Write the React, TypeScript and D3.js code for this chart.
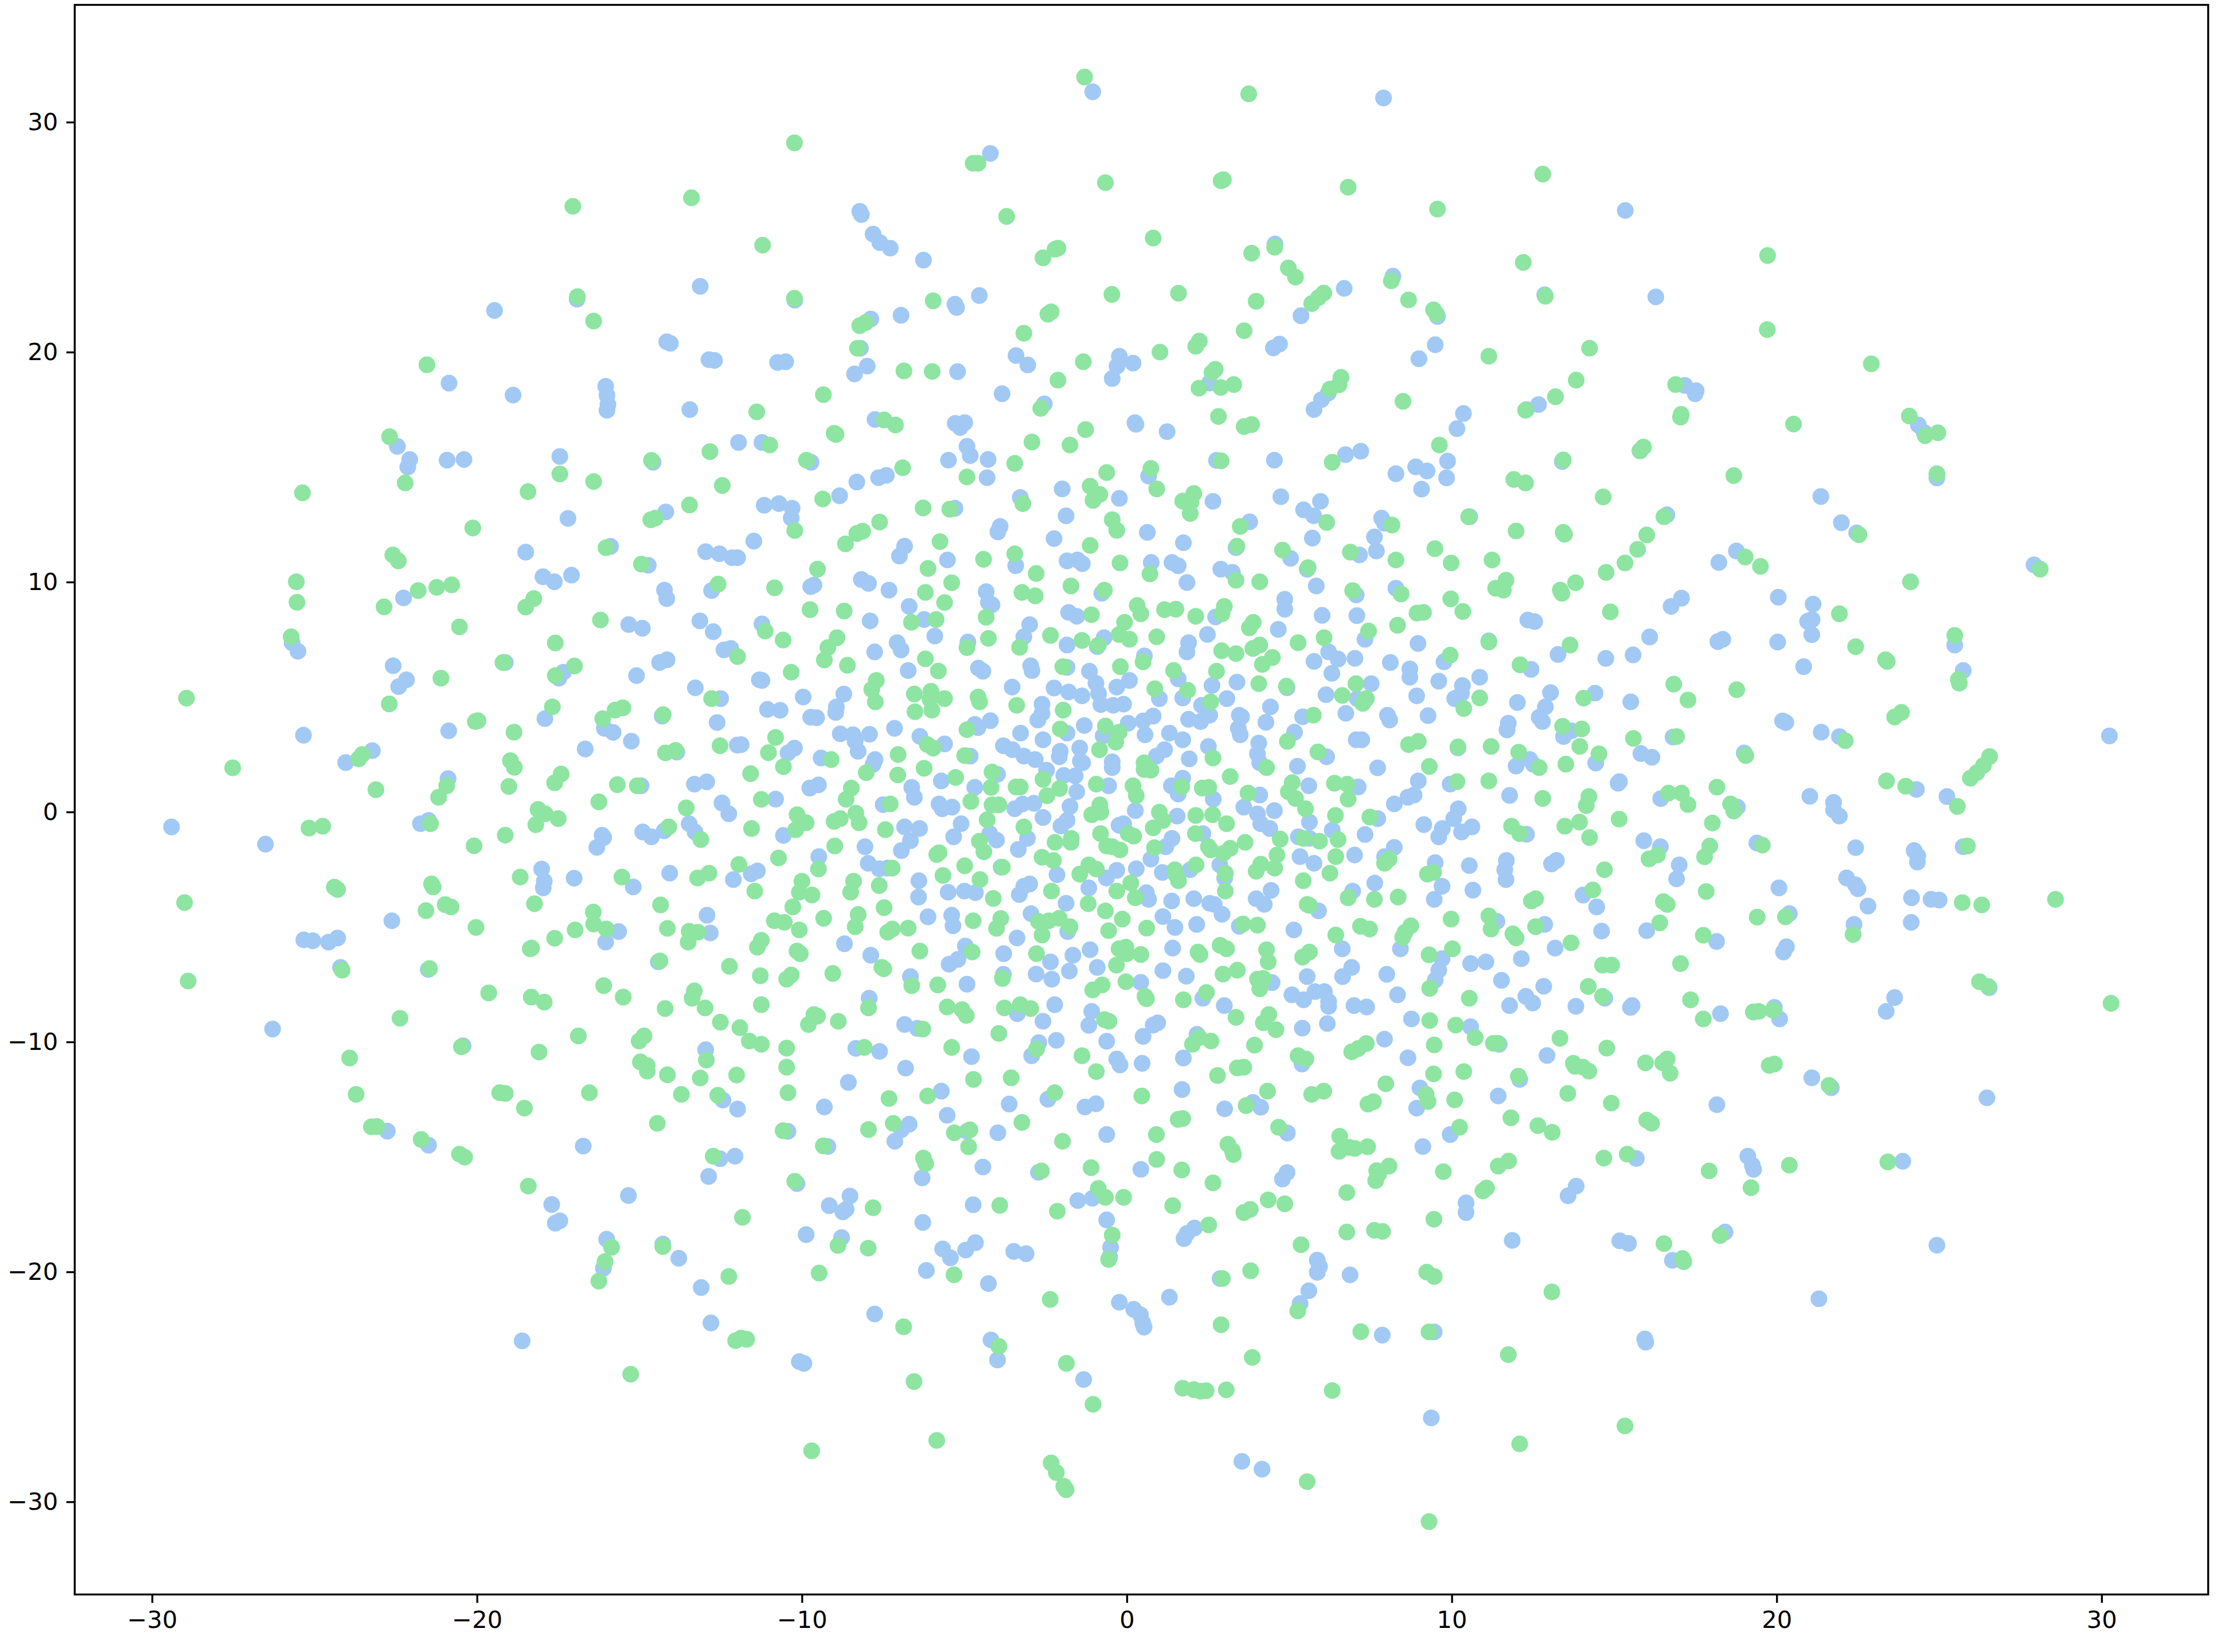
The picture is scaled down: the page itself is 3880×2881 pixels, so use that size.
import React, { useEffect, useRef } from 'react';
import * as d3 from 'd3';

type Pt = [number, number];

const xTicks = [-30, -20, -10, 0, 10, 20, 30];
const yTicks = [-30, -20, -10, 0, 10, 20, 30];

// first series
const blueUpperLeft: Pt[] = [
  [-13.13,22.86],[-19.46,21.81],[-16.92,22.3],[-14.16,20.45],[-14.05,20.38],[-12.86,19.67],[-12.69,19.64],[-10.75,19.55],[-10.5,19.58],
  [-20.86,18.65],[-18.89,18.13],[-16.04,18.51],[-16,18.12],[-15.97,17.72],[-16,17.47],[-13.45,17.5],[-22.45,15.9],[-22.07,15.33],[-22.13,15],
  [-20.92,15.3],[-20.4,15.33],[-17.45,15.46],[-14.58,15.21],[-11.95,16.07],[-11.23,16.07],[-14.19,13.05],[-17.2,12.77],[-11.16,13.34],[-10.71,13.41],
  [-11.48,11.78],[-12.96,11.32],[-12.54,11.23],[-12.15,11.06],[-11.98,11.06],[-15.89,11.55],[-18.5,11.3],[-14.73,10.73],
  [-17.97,10.23],[-17.62,10.01],[-17.09,10.3],[-22.26,9.31],[-14.23,9.65],[-14.16,9.28],[-12.78,9.63],[-15.33,8.15],[-14.91,7.99],[-13.14,8.31],[-12.73,7.84],[-11.23,8.18],
  [-25.69,7.36],[-25.51,6.99],[-12.4,7.05],[-12.19,7.11],[-19.13,6.5],[-22.58,6.36],[-14.38,6.5],[-14.15,6.62],[-17.34,6.08],[-17.48,5.82],[-15.09,5.93],[-22.17,5.75],[-22.41,5.45],
  [-11.31,5.75],[-11.23,5.72],[-13.28,5.4],[-12.5,4.93],[-17.91,4.06],[-16.08,3.64],[-15.81,3.46],[-11.06,4.46],[-10.67,4.42],[-14.3,4.17],[-12.61,3.89],[-25.34,3.34],[-20.87,3.53],
  [-15.25,3.08],[-11.99,2.91],[-11.87,2.93],[-16.67,2.74],[-13.85,2.6],[-23.22,2.67],[-24.04,2.15],[-20.89,1.45],[-14.95,1.14],[-13.31,1.21],[-12.93,1.31],[-10.81,0.56],[-12.46,0.39],[-12.25,-0.08],
];
const blueLowerLeft: Pt[] = [
  [-29.4,-0.65],[-26.51,-1.4],[-21.74,-0.51],[-21.49,-0.37],[-16.15,-1.01],[-16.1,-1.11],[-16.31,-1.54],[-14.9,-0.87],[-14.63,-1.08],[-14.24,-0.82],[-13.47,-0.51],[-13.29,-0.87],[-10.57,-1.02],
  [-18.01,-2.48],[-17.93,-3.01],[-17.96,-3.3],[-17.01,-2.88],[-15.19,-3.26],[-14.07,-2.66],[-12.11,-2.94],[-11.56,-2.69],[-11.37,-2.56],[-15.64,-5.2],[-16.04,-5.66],[-12.92,-4.49],[-22.62,-4.73],
  [-12.82,-5.26],[-25.33,-5.56],[-25.05,-5.6],[-24.57,-5.66],[-24.29,-5.48],[-14.42,-6.52],[-24.2,-6.76],[-21.5,-6.85],[-26.29,-9.44],[-20.43,-10.17],[-12.96,-10.34],
  [-12.43,-12.53],[-11.98,-12.92],[-22.76,-13.88],[-21.49,-14.49],[-16.73,-14.53],[-12.52,-15.08],[-12.06,-14.97],[-12.87,-15.85],[-15.34,-16.68],[-17.7,-17.07],[-17.59,-17.88],[-17.45,-17.78],
  [-16.01,-18.58],[-14.28,-18.79],[-13.79,-19.41],[-16.11,-19.84],[-13.1,-20.68],[-12.8,-22.22],[-18.61,-23],
];
const blueUpperMiddle: Pt[] = [
  [-1.05,31.32],[7.9,31.05],[-4.2,28.64],[-8.22,26.12],[-8.17,25.98],[-7.81,25.13],[-7.6,24.76],[-7.28,24.52],[-6.26,24],[4.56,24.7],[8.19,23.3],[6.69,22.77],[-10.22,22.26],[-5.29,22.08],[-5.24,21.94],[-4.54,22.46],
  [5.36,21.58],[9.56,21.55],[-7.88,21.44],[-6.95,21.6],[4.7,20.35],[4.51,20.18],[9.49,20.32],[8.99,19.71],[-8.2,20.17],[-7.99,19.39],[-8.38,19.05],[-5.21,19.15],[-3.41,19.85],[-3.05,19.44],
  [-0.23,19.82],[-0.3,19.39],[0.19,19.52],[-0.45,18.85],[2.54,18.65],[6.2,18.22],[5.99,17.93],[5.76,17.5],[-3.84,18.19],[-2.54,17.75],[10.36,17.33],[10.16,16.67],[-7.75,17.07],[-5.28,16.9],[-4.99,16.93],[-5.13,16.72],
  [0.25,16.93],[0.28,16.86],[1.24,16.54],[-4.92,15.9],[-4.82,15.5],[-4.27,15.33],[-5.49,15.3],[-9.72,15.21],[-7.4,14.64],[-7.64,14.54],[-8.31,14.35],[-4.3,14.54],[2.76,15.29],[4.54,15.3],[6.73,15.54],[7.2,15.69],
  [9.87,15.26],[8.89,15.01],[9.24,14.83],[9.84,14.53],[8.28,14.71],[9.07,14.04],[0.67,14.61],[-1.99,14.05],[-0.23,13.64],[-3.28,13.68],[2.65,13.51],[4.74,13.71],[5.96,13.51],[5.44,13.14],[5.75,12.88],
  [-8.84,13.75],[-10.3,13.21],[-10.33,12.78],[-5.29,13.21],[-1.87,12.88],[-3.9,12.42],[-3.97,12.18],[0.63,12.16],[3.78,12.62],[7.84,12.78],[7.93,12.56],[10.55,12.84],[7.62,11.96],[5.71,11.91],[-2.24,11.89],
  [-6.84,11.56],[-7,11.13],[1.74,11.71],[3.36,11.49],[5.04,11.03],[7.16,11.18],[7.68,11.35],[-3.42,10.71],[-5.52,10.96],[-1.84,10.92],[-1.52,10.96],[-1.37,10.8],[0.75,10.85],[1.39,10.85],[1.58,10.71],[2.89,10.56],[3.25,10.42],[5.55,10.56],
];
const blueCenter: Pt[] = [
  [-9.63,9.87],[-9.73,9.8],[-8.17,10.11],[-7.95,9.94],[-7.32,9.65],[-4.33,9.58],[-4.26,9.11],[-4.15,9.01],[-0.77,9.51],[1.85,9.98],[4.86,9.25],[4.86,8.82],[5.83,9.83],[7.06,9.44],[8.28,9.73],[2.73,8.48],
  [-6.7,8.94],[-6.24,8.37],[-7.9,8.31],[-1.79,8.68],[-1.54,8.51],[6.01,8.55],[7.08,8.54],[-2.99,8.15],[-3.17,7.62],[-0.7,7.58],[-0.91,7.19],[-1.84,7.26],[2.48,7.72],[1.9,7.36],[1.85,6.96],[4.66,7.94],[7.33,7.51],[8.96,7.33],[11.14,7.44],
  [-5.91,7.65],[-4.89,7.39],[-7.07,7.36],[-6.95,7.05],[-7.76,6.96],[0.54,6.79],[6.21,6.96],[6.5,6.65],[5.76,6.55],[7.02,6.68],[6.31,6.03],[8.11,6.5],[9.76,6.53],[8.71,6.22],[8.71,5.86],[-2.96,6.36],[-2.92,6.15],[-1.84,6.29],[-1.15,6.12],
  [1.58,5.79],[-6.73,6.15],[-4.57,6.26],[-4.43,6.12],[-8.71,5.13],[-9.96,5],[-3.53,5.43],[-2.24,5.39],[-1.79,5.22],[-1.38,5.05],[-0.95,5.6],[-0.87,5.15],[-0.31,5.43],[0.08,5.72],[1,4.93],[1.72,4.96],[2.62,5.5],[3.39,5.65],[4.93,5.4],
  [7.52,5.58],[6.13,5.1],[7.09,4.93],[8.92,5.05],[9.6,5.69],[10.33,5.5],[10.3,5.15],[10.09,4.93],[10.86,5.86],[-0.8,4.67],[-0.42,4.64],[-0.1,4.69],[2.3,4.64],[3.08,4.93],[4.42,4.57],[-2.61,4.69],[-2.61,4.29],[-2.74,4],
  [-8.94,4.57],[-8.96,4.33],[-9.73,4.12],[-9.55,4.1],[6.74,4.29],[3.46,4.21],[3.53,4.14],[4.28,3.9],[5.41,4.14],[8.02,4.21],[8.09,4],[9.27,4.19],[0.81,4.17],[0.5,3.96],[0.04,3.86],[1.9,4.03],[2.27,3.93],[2.55,4.21],
  [-4.2,3.97],[-4.68,3.81],[-4.58,3.67],[-7.15,3.64],[-8.82,3.4],[-8.43,3.36],[-7.92,3.38],[-8.36,3.07],[-6.37,3.29],[-5.61,2.96],[-1.31,3.76],[-3.27,3.43],[-1.84,3.43],[-0.73,3.31],[0.56,3.36],[1.31,3.43],[1.72,3.14],[3.43,3.64],[3.49,3.36],
  [5.16,3.47],[7.06,3.14],[7.23,3.14],[10.19,2.79],[-2.58,3.14],[-3.8,2.88],[-3.52,2.71],[-3.17,2.43],[-2.82,2.28],[-1.45,2.78],[-2.05,2.64],[-2.08,2.4],[2.51,2.85],[1.16,2.71],[0.91,2.43],[4.06,3],[4.02,2.53],[1.92,2.31],[6.15,2.4],[4.09,2.14],
  [-10.23,2.78],[-10.43,2.57],[-9.41,2.35],[-8.27,2.64],[-7.75,2.28],[-7.81,2.07],[-4.82,2.43],[-1.43,2.21],[-1.36,2.14],[-0.45,2.18],[-0.45,1.93],[5.25,1.99],[7.72,1.92],[-2.47,1.82],[-3.98,1.64],[-5.71,1.35],[-1.94,1.59],[-1.59,1.57],
  [1.72,1.47],[1.37,1.14],[1.58,0.78],[-4.68,1.07],[-1.54,0.88],[-0.56,1.14],[2.66,0.56],[5.6,1.14],[7.12,1.09],[8.97,1.35],[9.95,1.21],[-9.76,1.04],[-9.49,1.18],[-6.62,1.07],[-6.54,0.64],[4.09,0.74],[-7.5,0.32],
  [-5.78,0.35],[-5.68,0.14],[-5.38,0.21],[-3.45,0.14],[-3.21,0.35],[-2.86,0.38],[-1.75,0.24],[0.26,0.06],[1.55,-0.18],[3.6,0.21],[4.02,-0.08],[4.54,0.06],[5.62,-0.44],[7.72,-0.29],[8.23,0.35],[8.65,0.64],[8.84,0.74],[10.2,0.14],[10.06,-0.29],
  [-6.84,-0.65],[-6.38,-0.72],[-5.1,-0.51],[-2.58,-0.24],[-1.84,-0.37],[-2.03,-0.61],[-0.24,-0.58],[-0.1,-0.51],[4.12,-0.51],[4.4,-0.72],[9.14,-0.55],[9.71,-0.72],[9.6,-1.08],[10.3,-0.87],[10.62,-0.65],
  [-4.22,-0.94],[-4.01,-1.22],[-5.33,-1.08],[-6.66,-1.25],[-6.94,-1.68],[-8.06,-1.51],[-3.06,-1.15],[-3.34,-1.63],[2.34,-0.94],[1.39,-1.15],[1.2,-1.51],[0.74,-2.05],[5.28,-1.08],[5.62,-1.15],[6.32,-0.79],[7.33,-0.98],[8.23,-1.54],[7.93,-1.94],
  [-9.48,-1.94],[-7.96,-2.23],[-7.62,-2.47],[-7.36,-2.44],[5.33,-1.94],[5.76,-2.23],[7.01,-1.87],[9.49,-2.2],[10.54,-2.33],[-3.87,-2.4],[-2.15,-2.73],[-0.31,-2.54],[-0.63,-2.87],[0.29,-2.47],[1.09,-2.63],[1.95,-2.51],[2.86,-2.3],[3.01,-2.87],
  [-6.4,-2.99],[-5.5,-3.49],[-5,-3.44],[-4.66,-3.51],[-6.41,-3.7],[-2.99,-3.13],[-3.17,-3.23],[-3.31,-3.59],[-1.17,-3.3],[0.6,-3.51],[0.67,-3.8],[1.38,-3.87],[2.06,-3.77],[2.55,-3.97],[2.69,-4.02],[2.93,-4.45],[3.98,-3.77],[4.44,-3.41],[4.23,-4.02],[5.9,-4.3],
  [7.63,-3.09],[6.95,-3.44],[9.7,-3.23],[9.46,-3.8],[10.65,-3.4],[-1.87,-3.97],[-6.12,-4.56],[-5.39,-4.49],[-5.35,-4.95],[-2.95,-4.42],[-1.82,-5.2],[1.11,-4.55],[1.48,-5.02],[2.15,-4.89],[3.46,-4.97],[5.14,-5.13],
  [-3.38,-5.48],[-8.69,-5.73],[-7.88,-6.23],[-4.97,-5.83],[-5.2,-6.41],[-5.47,-6.62],[-3.79,-6.16],[-1.66,-6.23],[-2.35,-6.52],[-1.13,-5.99],[1.41,-5.92],[6.63,-5.95],[8.42,-5.95],[9.7,-6.38],[9.6,-6.88],[9.49,-7.31],[10.58,-6.59],[11.05,-6.52],
  [-0.91,-6.76],[-1.77,-6.92],[-2.79,-7.05],[-3.8,-7.06],[-2.31,-7.27],[1.11,-6.9],[1.83,-7.14],[4.47,-7.42],[5.55,-7.16],[6.92,-6.76],[6.64,-7.16],[8,-7.06],[-6.66,-7.16],[-4.92,-7.49],[0.43,-7.41],[-7.93,-8.1],[2.34,-8.1],[3,-8.42],
  [5.08,-7.95],[5.44,-8.17],[5.79,-7.81],[6.08,-7.81],[6.21,-8.24],[6.21,-8.45],[8.33,-7.95],[-2.22,-8.38],[-1.08,-8.67],[6.99,-8.42],[7.38,-8.48],[-3.37,-8.77],[0.95,-9.17],[0.81,-9.27],[-2.58,-9.1],[-1.17,-9.28],[-6.84,-9.24],[-6.45,-9.41],
  [6.17,-9.2],[5.4,-9.4],[8.76,-9],[10.58,-9.34],[0.5,-9.76],[2.16,-9.67],[-2.17,-9.93],[-0.62,-9.97],[-2.71,-10.03],[-2.93,-10.6],[7.93,-9.88],[-8.34,-10.28],[-7.61,-10.41],[-4.78,-10.64],[-0.31,-10.74],[-0.21,-11],[0.47,-10.93],[1.74,-10.7],[8.65,-10.69],
  [5.39,-10.96],[-6.81,-11.14],[-8.57,-11.76],[9.02,-12],
];
const blueLowerMiddle: Pt[] = [
  [-5.71,-12.14],[-9.31,-12.83],[-5.53,-13.19],[-3.62,-12.7],[-2.43,-12.49],[-1.29,-12.83],[-0.95,-12.69],[1.7,-12.07],[3.01,-12.91],[3.88,-12.63],[4.12,-12.84],[8.92,-12.88],[-6.7,-13.58],[-6.94,-13.82],[-7.14,-14.32],[-10.43,-13.89],[-4.92,-13.89],[-3.97,-13.95],
  [-0.62,-14.03],[4.94,-13.96],[9.95,-14.03],[9.11,-14.55],[-9.2,-14.55],[0.43,-15.54],[4.93,-15.68],[4.79,-15.96],[-6.3,-15.91],[-4.43,-15.44],[-2.72,-15.67],[-10.15,-16.16],[-8.52,-16.7],[-9.16,-17.12],[-8.64,-17.28],[-8.74,-17.39],
  [-4.73,-17.08],[-1.51,-16.9],[-1.06,-16.8],[10.44,-17],[10.44,-17.42],[-0.62,-17.74],[-6.28,-17.85],[2.08,-18.09],[1.85,-18.33],[1.76,-18.55],[-9.87,-18.38],[-8.78,-18.51],[-4.66,-18.73],[-4.96,-19.05],[-5.67,-19],[-5.43,-19.39],[-3.48,-19.11],[-3.1,-19.21],
  [-0.5,-18.93],[-0.53,-19.35],[5.86,-19.49],[5.93,-19.77],[5.86,-20.02],[2.87,-20.29],[6.87,-20.13],[-6.17,-19.94],[-4.26,-20.51],[-0.23,-21.32],[0.21,-21.63],[0.42,-21.87],[0.49,-22.22],[0.53,-22.4],[1.31,-21.1],[5.6,-20.82],[5.33,-21.38],
  [-7.76,-21.83],[7.86,-22.75],[9.46,-22.61],[-4.18,-22.96],[-3.98,-23.83],[-10.08,-23.9],[-9.94,-23.98],[-1.33,-24.68],[9.37,-26.35],[3.54,-28.24],[4.16,-28.58],
];
const blueRight: Pt[] = [
  [15.34,26.16],[12.86,22.49],[16.28,22.4],[12.67,17.72],[12.3,17.5],[17.17,18.55],[17.52,18.32],[17.49,18.19],[24.36,16.83],[24.54,16.5],[15.79,15.71],[13.4,15.24],[24.93,14.53],[21.36,13.72],[16.62,12.92],[21.99,12.58],[22.46,12.14],[18.76,11.35],[18.22,10.85],[27.92,10.75],
  [16.75,8.94],[17.07,9.3],[20.05,9.34],[21.12,9.04],[20.95,8.29],[21.09,8.37],[21.08,7.71],[12.34,8.35],[12.55,8.28],[16.09,7.61],[18.19,7.41],[18.34,7.51],[20.03,7.39],[25.48,7.26],[13.27,6.85],[14.74,6.68],[15.58,6.83],[20.83,6.32],[12.44,6.2],[25.74,6.15],
  [14.41,5.17],[13.04,5.19],[15.51,4.79],[12.02,4.76],[12.88,4.57],[12.69,4.12],[12.79,3.93],[20.18,3.96],[20.28,3.89],[21.37,3.47],[21.93,3.28],[30.24,3.31],[11.74,3.86],[11.7,3.57],[13.44,3.28],[13.69,3.53],[16.81,3.26],[14.43,2.13],[15.82,2.54],[16.16,2.38],[19,2.57],
  [12.4,2.28],[11.98,2],[12.51,2.07],[15.16,1.32],[15.12,1.25],[24.3,0.98],[16.43,0.58],[21.02,0.68],[21.75,0.42],[21.75,0.09],[21.93,-0.18],[25.24,0.67],[11.78,0.72],[18.79,0.21],[12.3,-0.97],[15.91,-1.25],[16.42,-1.51],[19.39,-1.35],[22.43,-1.55],[24.23,-1.68],[24.34,-1.91],[24.33,-2.18],[25.74,-1.51],
  [11.68,-2.11],[11.63,-2.51],[11.67,-2.94],[13.22,-2.11],[13.07,-2.26],[17,-2.3],[16.92,-2.91],[22.15,-2.87],[22.42,-3.16],[22.5,-3.34],[20.07,-3.3],[24.15,-3.73],[24.75,-3.8],[25,-3.83],[14.04,-3.61],[14.46,-4.13],[22.81,-4.09],[20.39,-4.42],[22.38,-4.89],[24.14,-4.8],
  [12.86,-4.89],[11.39,-4.76],[14.61,-5.18],[16,-5.16],[18.15,-5.63],[20.3,-5.86],[20.21,-6.09],[13.18,-5.92],[12.14,-6.38],[11.53,-7.32],[12.83,-7.58],[14.71,-8.1],[15.55,-8.42],[15.5,-8.5],[18.27,-8.77],[12.28,-8.02],[12.49,-8.31],[11.78,-8.42],[13.82,-8.45],[19.93,-8.5],[20.09,-9],
  [23.63,-8.07],[23.37,-8.67],[26.54,-7.64],[11.46,-10.1],[12.93,-10.59],[21.08,-11.56],[21.68,-11.99],[12.09,-11.63],[11.43,-12.35],[18.16,-12.73],[26.47,-12.43],[15.68,-15.07],[19.11,-14.97],[19.25,-15.36],[19.29,-15.54],[23.88,-15.19],[13.83,-16.27],[13.58,-16.69],
  [11.86,-18.63],[15.17,-18.65],[15.44,-18.76],[18.41,-18.27],[16.79,-19.5],[24.93,-18.84],[21.3,-21.17],[15.94,-22.92],[15.97,-23.06],
];

// second series, drawn on top of the first
const greenUpperLeft: Pt[] = [
  [-17.05,26.34],[-13.4,26.71],[-11.21,24.65],[-16.91,22.41],[-16.41,21.35],[-21.54,19.45],[-11.39,17.4],[-22.69,16.32],[-14.63,15.29],[-10.99,15.96],[-12.83,15.67],[-17.45,14.7],[-16.41,14.37],[-22.21,14.31],[-18.43,13.93],[-25.37,13.88],[-12.45,14.2],[-13.46,13.35],
  [-14.65,12.71],[-14.51,12.78],[-20.13,12.35],[-16.03,11.49],[-22.59,11.18],[-22.42,10.92],[-14.94,10.78],[-25.56,10.01],[-25.54,9.12],[-21.81,9.63],[-21.24,9.77],[-20.78,9.88],[-22.86,8.92],[-18.25,9.28],[-18.5,8.91],[-12.58,9.91],[-10.84,9.75],[-16.2,8.35],[-11.13,7.87],[-20.54,8.05],
  [-10.58,7.48],[-25.72,7.62],[-17.59,7.35],[-11.98,6.76],[-19.2,6.5],[-17,6.35],[-17.59,5.93],[-21.11,5.82],[-28.94,4.95],[-12.78,4.93],[-22.7,4.7],[-17.68,4.57],[-19.97,3.97],[-20.05,3.93],[-15.51,4.53],[-15.75,4.43],[-16.13,4.06],[-14.27,4.23],[-18.86,3.47],[-10.81,3.24],
  [-12.52,2.88],[-14.2,2.57],[-13.89,2.68],[-11.03,2.58],[-23.53,2.5],[-23.64,2.31],[-27.52,1.92],[-18.97,2.23],[-18.85,1.94],[-17.41,1.65],[-17.61,1.27],[-11.58,1.67],[-10.57,1.97],[-20.93,1.14],[-21.18,0.64],[-23.11,0.97],[-19.02,1.11],[-15.68,1.19],[-15.07,1.14],[-16.25,0.44],[-11.25,0.55],[-13.56,0.18],
];
const greenLowerLeft: Pt[] = [
  [-18.12,0.11],[-17.9,-0.08],[-17.5,-0.29],[-18.19,-0.55],[-11.55,-0.72],[-25.17,-0.7],[-24.75,-0.62],[-21.43,-0.51],[-19.13,-1.01],[-20.09,-1.47],[-14.1,-0.65],[-13.11,-1.2],[-10.72,-2],[-18.67,-2.83],[-15.54,-2.83],[-13.21,-2.87],[-12.86,-2.66],[-11.94,-2.28],[-11.45,-3.44],
  [-24.39,-3.27],[-24.29,-3.37],[-21.4,-3.13],[-21.35,-3.26],[-29,-3.94],[-18.23,-3.99],[-14.35,-4.04],[-21.57,-4.29],[-20.98,-4.03],[-20.8,-4.13],[-16.42,-4.35],[-16.41,-4.87],[-16.02,-5.09],[-20.03,-5.02],[-16.98,-5.13],[-17.61,-5.49],[-14.14,-5.06],[-13.47,-5.19],[-13.2,-5.23],[-13.5,-5.66],
  [-10.85,-4.73],[-10.54,-4.8],[-11.25,-5.58],[-11.37,-5.88],[-18.36,-5.95],[-18.32,-5.92],[-14.37,-6.48],[-12.23,-6.71],[-24.15,-6.88],[-21.46,-6.81],[-11.28,-7.12],[-10.47,-7.27],[-28.89,-7.35],[-19.64,-7.87],[-18.33,-8.05],[-17.93,-8.27],[-16.1,-7.55],[-15.5,-8.05],
  [-13.31,-7.78],[-13.38,-8.1],[-12.98,-8.52],[-14.21,-8.55],[-11.25,-8.38],[-22.37,-8.97],[-12.51,-9.14],[-11.91,-9.38],[-16.88,-9.74],[-14.86,-9.74],[-15.01,-9.96],[-11.62,-9.96],[-11.25,-10.1],[-10.47,-10.27],[-20.48,-10.21],[-18.09,-10.44],[-12.94,-10.79],[-23.92,-10.7],
  [-14.97,-10.87],[-14.76,-11.03],[-14.76,-11.27],[-14.14,-11.43],[-13.13,-11.57],[-12.01,-11.44],[-10.47,-11.1],[-23.72,-12.28],[-19.3,-12.21],[-19.13,-12.24],[-16.54,-12.21],[-13.71,-12.28],[-12.59,-12.32],[-18.54,-12.88],[-14.45,-13.54],[-10.58,-13.86],[-23.25,-13.69],[-23.08,-13.68],
  [-21.72,-14.24],[-20.54,-14.88],[-20.38,-15.01],[-12.73,-14.97],[-18.42,-16.27],[-11.83,-17.63],[-15.86,-18.93],[-14.28,-18.9],[-16.06,-19.55],[-16.25,-20.4],[-12.25,-20.2],[-12.04,-22.99],[-11.87,-22.88],[-11.7,-22.93],[-15.27,-24.45],
];
const greenUpperMiddle: Pt[] = [
  [-1.3,31.96],[3.75,31.23],[-10.23,29.1],[-4.73,28.21],[-4.58,28.21],[-0.66,27.37],[2.9,27.45],[2.97,27.5],[6.81,27.17],[9.56,26.22],[-3.7,25.9],[0.81,24.96],[-2.12,24.52],[-2.21,24.47],[-2.58,24.1],[4.55,24.56],[3.84,24.3],[4.97,23.66],[5.19,23.26],[8.14,23.1],
  [-0.46,22.51],[1.59,22.56],[-10.23,22.34],[-5.96,22.23],[-2.33,21.75],[-2.43,21.65],[3.98,22.21],[6.06,22.57],[5.9,22.37],[5.69,22.11],[8.67,22.27],[9.44,21.84],[9.53,21.66],[-8.04,21.28],[-8.22,21.15],[-3.17,20.82],[3.61,20.93],[2.23,20.48],[2.12,20.25],[11.14,19.82],[-8.29,20.17],
  [-6.86,19.18],[-5.99,19.16],[-1.34,19.58],[1.02,20],[-2.12,18.78],[2.72,19.25],[2.62,19.11],[2.22,18.43],[2.89,18.46],[3.29,18.59],[6.59,18.9],[6.53,18.58],[6.25,18.39],[-9.34,18.15],[-2.65,17.55],[8.5,17.86],[-7.47,17.05],[-7.12,16.83],[-9.01,16.47],[-8.95,16.42],[2.82,17.2],[3.61,16.76],[3.84,16.85],
  [-1.27,16.63],[-2.92,16.09],[-1.75,15.96],[-3.45,15.16],[-9.86,15.3],[-6.9,14.97],[-4.92,14.57],[2.9,15.27],[6.32,15.21],[9.62,15.96],[-0.62,14.76],[0.74,14.94],[0.92,14.05],[-1.13,14.17],[-0.83,13.81],[-1.04,13.55],[-3.2,13.41],[2.06,13.85],[1.72,13.52],[1.97,13.47],[1.95,12.98],
  [-9.36,13.61],[-10.22,12.24],[-6.27,13.22],[-5.45,13.17],[-7.61,12.61],[-8.13,12.21],[-8.31,12.11],[-0.45,12.71],[-0.31,12.25],[3.49,12.42],[6.15,12.59],[8.16,12.48],[10.52,12.84],[-8.66,11.66],[-5.75,11.76],[-1.13,11.59],[3.39,11.56],[4.79,11.39],[6.88,11.3],[9.48,11.45],[8.28,10.96],[9.98,10.83],[11.24,10.96],
  [-3.45,11.23],[-4.41,10.99],[-6.12,10.59],[-9.52,10.56],[-2.79,10.37],[-0.21,10.83],[0.71,10.35],[5.58,10.63],
];
const greenCenter: Pt[] = [
  [-6.2,9.55],[-5.39,9.97],[-5.61,9.11],[-3.23,9.55],[-2.82,9.4],[-1.72,9.83],[-0.69,9.65],[3.36,10.08],[4.09,10.01],[6.95,9.63],[8.44,9.48],[9.97,9.27],[11.35,9.73],[10.34,8.72],[0.32,8.98],[0.43,8.62],[1.16,8.8],[1.51,8.82],[3,8.94],[2.93,8.62],[2.12,8.51],
  [-9.75,8.8],[-8.7,8.74],[-6.63,8.25],[-5.87,8.37],[-4.33,8.47],[-1.09,8.58],[9.13,8.68],[8.93,8.65],[-3.3,7.16],[-2.35,7.68],[-0.07,8.25],[-0.24,7.72],[0.08,7.51],[-0.88,7.25],[-1.38,7.46],[0.92,7.62],[3.89,8.25],[3.77,8.01],[8.33,8.12],[7.44,7.87],[6.07,7.58],[5.27,7.36],[11.14,7.39],
  [-4.92,7.15],[-4.26,7.55],[-8.92,7.58],[-9.2,7.15],[-9.31,6.61],[-6.2,6.66],[-8.6,6.38],[4.09,7.26],[3.88,7.11],[2.92,7.01],[3.36,6.89],[4.48,6.72],[4.17,6.42],[0.5,6.53],[9.95,6.82],[-1.97,6.32],[-0.2,6.32],[1.44,6.15],[2.76,6.12],[-5.8,6.13],[-10.33,6.08],
  [-7.71,5.72],[-7.85,5.33],[-7.74,4.79],[-6.54,5.13],[-6.03,5.25],[-6.06,4.9],[-5.61,4.93],[-6,4.43],[-6.52,4.36],[-4.58,5],[-4.53,4.79],[-3.39,4.64],[0.86,5.36],[1.87,5.29],[4.06,5.58],[4.91,5.47],[7.05,5.58],[6.63,5.07],[7.37,4.93],[7.26,4.72],[10.86,4.96],[10.37,4.5],[2.58,4.79],[-1.96,4.43],[5.74,4.21],
  [-4.92,3.58],[-6.14,2.93],[-5.96,2.78],[-2.05,3.61],[-0.66,3.74],[-0.24,3.47],[-0.34,3.04],[4.94,3.07],[8.97,3.07],[8.67,2.93],[10.19,2.83],[11.21,2.85],[-0.84,2.71],[2.65,2.35],[5.88,2.61],[4.3,1.93],[-9.1,2.28],[-7.04,2.5],[-4.99,2.45],[-8.02,1.71],[-6.24,1.9],[-7.05,1.61],
  [0.53,2.14],[0.53,1.85],[0.74,1.82],[9.31,1.98],[-4.15,1.74],[-5.27,1.5],[-2.58,1.42],[3.18,1.54],[1.69,1.1],[-3.28,1.09],[-3.41,1.09],[-4.18,1.07],[-2.07,1.02],[-0.94,1.21],[0.19,1.14],[0.29,0.71],[2.32,1.04],[2.52,1.07],[5.09,1.28],[4.97,0.88],[5.19,0.59],[6.39,1.25],[6.78,1.21],[6.81,0.56],[10.16,1.32],[11.14,1.35],
  [-8.48,1.04],[-8.64,0.55],[-2.46,0.71],[3.73,0.82],[-4.8,0.46],[-7.28,0.35],[-4.15,0.31],[-3.94,0.31],[-0.83,0.31],[-1.08,-0.12],[-0.8,-0.01],[1,-0.01],[1.11,-0.37],[2.12,-0.15],[2.64,-0.12],[5.5,0.14],[6.42,-0.15],[7.48,-0.22],
  [-10.15,-0.12],[-9.87,-0.47],[-10.19,-0.77],[-9.01,-0.41],[-8.82,-0.29],[-8.34,-0.05],[-8.24,-0.47],[-7.43,-0.77],[-4.3,-0.34],[-3.17,-0.65],[0.81,-0.69],[3.07,-0.51],[-8.99,-1.48],[-4.54,-1.27],[-4.4,-1.73],[-2.21,-1.32],[-1.71,-1.15],[-1.72,-1.32],[-0.81,-0.94],
  [0.04,-0.94],[0.21,-1.05],[-0.62,-1.48],[-0.45,-1.51],[-0.21,-1.65],[2.11,-0.94],[0.85,-1.55],[2.51,-1.51],[2.58,-1.65],[3.64,-1.32],[3.18,-1.58],[2.97,-1.8],[4.72,-1.18],[5.44,-1.15],[5.93,-1.27],[6.5,-1.2],[8.07,-2.05],[7.93,-2.23],[-5.78,-1.77],[-5.85,-1.85],
  [-9.49,-2.48],[-7.22,-2.44],[-2.61,-1.97],[-2.26,-2.11],[4.62,-1.87],[6.43,-1.94],[9.44,-2.63],[9.25,-2.7],[-4.99,-2.34],[-3.83,-2.4],[-1.17,-2.3],[-0.94,-2.48],[-1.45,-2.7],[1.48,-2.51],[1.51,-2.73],[1.59,-2.99],[2.13,-2.3],[3.03,-2.66],[4.12,-2.27],[3.98,-2.58],[4.55,-2.44],[6.25,-2.66],[5.43,-2.99],
  [-5.66,-2.76],[-10,-3.01],[-10.08,-3.49],[-9.69,-3.61],[-8.41,-3.01],[-8.5,-3.49],[-7.62,-3.2],[-4.52,-2.94],[-4.11,-3.76],[-2.32,-3.44],[0.12,-3.09],[-0.31,-3.44],[0.26,-3.73],[3.03,-3.44],[5.55,-4.02],[5.62,-4.06],[7.62,-3.8],[6.81,-3.73],[8.35,-3.7],
  [-10.28,-4.13],[-7.47,-4.16],[-1.19,-3.99],[-0.66,-4.3],[-4.73,-4.73],[-3.88,-4.63],[-4.01,-5.06],[-8.27,-4.46],[-8.36,-4.99],[-9.33,-4.62],[-10.08,-5.13],[-7.22,-5.09],[-7.36,-5.23],[-6.73,-5.05],[-2.72,-4.76],[-2.4,-4.73],[-2.08,-4.62],[-1.75,-4.99],[-2.61,-5.35],[-0.14,-4.66],[-0.56,-5.16],
  [0.61,-5.05],[3.57,-4.87],[4.02,-4.92],[6.43,-5.35],[7.19,-4.97],[7.47,-5.09],[8.74,-4.95],[8.56,-5.23],[8.49,-5.45],[9.98,-4.66],[11.14,-4.52],[11.21,-5.09],[-10.15,-6.05],[-10.05,-6.16],[-6.37,-6.05],[-4.76,-6.09],[-2.78,-6.16],[-0.24,-5.95],[-0.03,-5.88],[0,-6.16],[0.43,-6.2],
  [2.19,-6.09],[2.25,-6.2],[2.87,-5.8],[3.07,-5.95],[4.3,-5.99],[4.35,-6.52],[5.62,-6.09],[5.41,-6.31],[9.3,-6.21],[10.02,-5.95],[-7.54,-6.76],[-7.48,-6.82],[-9.05,-7.02],[-10.33,-7.09],[-0.32,-6.66],[-3.83,-7.24],[2.96,-7.05],[3.4,-6.88],[4.02,-7.27],[4.2,-7.24],[4.09,-7.69],
  [-6.62,-7.55],[-5.82,-7.52],[-0.03,-7.38],[-0.76,-7.52],[-1.05,-7.74],[9.32,-7.67],[-7.95,-8.52],[0.56,-8.02],[0.6,-8.12],[1.74,-8.17],[2.45,-7.85],[10.54,-8.1],[-5.53,-8.48],[-5.07,-8.6],[-4.94,-8.85],[-3.77,-8.52],[-3.28,-8.38],[-2.96,-8.55],[-9.63,-8.81],[-9.8,-9.24],[-9.52,-8.88],[-8.88,-9.1],
  [3.36,-8.93],[4.37,-8.81],[4.2,-9.17],[4.59,-9.47],[-0.69,-9.03],[-0.55,-9.1],[-6.28,-9.44],[9.32,-9.07],[10.12,-9.27],[10.72,-9.81],[11.28,-10.06],[-3.94,-9.63],[2.23,-9.81],[2.02,-10.1],[2.59,-9.96],[-2.78,-10.31],[7.37,-10.07],[7.12,-10.29],[6.92,-10.43],[9.46,-10.13],[3.93,-10.14],
  [-5.39,-10.24],[-8.08,-10.24],[-1.38,-10.6],[5.27,-10.6],[5.51,-10.74],[3.4,-11.13],[3.6,-11.1],[-0.94,-11.29],[9.44,-11.39],[10.37,-11.29],[2.79,-11.46],[-3.56,-11.56],[-4.72,-11.63],[7.97,-11.82],
];
const greenLowerMiddle: Pt[] = [
  [-10.43,-12.21],[-7.32,-12.46],[-6.13,-12.35],[-2.22,-12.21],[0.46,-12.35],[3.67,-12.77],[4.33,-12.14],[5.69,-12.28],[6.06,-12.14],[7.59,-12.6],[7.42,-12.7],[9.21,-12.28],[9.27,-12.59],[10.09,-12.52],[1.72,-13.33],[1.58,-13.37],[-3.23,-13.5],[-7.19,-13.54],[-7.95,-13.81],
  [-4.83,-13.82],[-5.31,-13.95],[-4.87,-14.56],[-1.98,-14.32],[0.91,-14.03],[4.67,-13.71],[6.55,-14.1],[10.24,-13.71],[6.85,-14.59],[7.02,-14.63],[7.41,-14.56],[6.53,-14.76],[3.11,-14.45],[3.25,-14.73],[3.28,-14.9],[-9.34,-14.52],[0.92,-15.11],[1.69,-15.57],[2.65,-16.13],
  [-6.26,-15.05],[-6.19,-15.29],[-2.63,-15.61],[-1.1,-15.47],[8.07,-15.4],[7.69,-15.6],[7.75,-15.74],[7.66,-16.03],[9.74,-15.64],[11.07,-16.35],[10.96,-16.48],[-10.22,-16.06],[-7.81,-17.21],[-3.91,-17.11],[-2.14,-17.36],[-0.88,-16.37],[-0.66,-16.76],[-0.1,-16.76],[1.41,-17.12],
  [6.77,-16.55],[4.86,-17.04],[4.35,-16.87],[3.8,-17.28],[3.6,-17.42],[9.45,-17.71],[2.52,-17.96],[-8.89,-18.85],[-7.96,-18.97],[-0.45,-18.4],[-0.56,-19.46],[6.77,-18.27],[7.62,-18.19],[7.87,-18.24],[5.36,-18.82],[3.81,-19.95],[2.94,-20.29],[9.23,-20.01],[9.46,-20.2],
  [-9.47,-20.05],[-5.32,-20.13],[-2.36,-21.2],[5.26,-21.7],[-6.87,-22.39],[2.9,-22.3],[7.2,-22.6],[9.3,-22.61],[-3.94,-23.24],[3.86,-23.72],[-1.86,-23.98],[-6.55,-24.77],[1.72,-25.06],[2.06,-25.12],[2.27,-25.19],[2.44,-25.17],[3.06,-25.13],[6.32,-25.16],[-1.04,-25.76],
  [-5.85,-27.33],[-9.7,-27.78],[-2.33,-28.31],[-2.17,-28.73],[-1.94,-29.32],[-1.87,-29.47],[5.55,-29.12],[9.3,-30.86],
];
const greenRight: Pt[] = [
  [12.8,27.74],[12.2,23.9],[19.72,24.2],[12.88,22.43],[19.71,20.98],[14.24,20.17],[22.91,19.49],[13.83,18.78],[13.19,18.06],[12.27,17.47],[16.89,18.59],[17.06,17.29],[17.04,17.17],[20.52,16.87],[24.08,17.22],[24.57,16.36],[24.96,16.49],[15.9,15.87],[15.8,15.71],[13.43,15.31],[11.91,14.46],[12.27,14.31],
  [18.68,14.63],[24.93,14.71],[14.66,13.7],[16.53,12.84],[22.53,12.06],[11.98,12.22],[13.43,12.16],[13.47,12.08],[16,12.05],[15.72,11.42],[19.03,11.09],[19.5,10.68],[15.33,10.83],[14.75,10.42],[28.11,10.56],
  [11.67,10.08],[11.59,9.65],[13.34,9.65],[13.39,9.51],[13.81,9.97],[24.12,10.01],[21.93,8.62],[14.88,8.7],[22.43,7.19],[23.35,6.62],[23.4,6.55],[25.48,7.68],[13.64,7.26],[12.1,6.4],[25.59,5.76],[25.62,5.6],[16.83,5.56],[17.27,4.87],[18.77,5.32],[14.06,4.95],[23.84,4.33],[23.63,4.13],[22.11,3.1],
  [13.41,3.73],[14,3.61],[15.59,3.2],[16.92,3.28],[13.94,2.85],[14.53,2.53],[19.05,2.45],[26.55,2.41],[26.36,2.02],[26.16,1.71],[25.96,1.47],[12.06,2.6],[12.69,1.93],[13.51,2.08],[23.38,1.35],[23.97,1.12],[18.16,1.08],[16.67,0.82],[17.07,0.82],[17.27,0.32],[25.56,0.24],
  [12.8,0.59],[14.22,0.67],[14.14,0.28],[18.58,0.35],[18.68,0.04],[15.15,-0.31],[13.48,-0.62],[13.93,-0.44],[14.24,-1.11],[11.84,-0.62],[12.09,-0.94],[18.02,-0.48],[16.33,-1.87],[16.07,-2.04],[17.94,-1.48],[17.78,-1.95],[19.56,-1.44],[25.87,-1.48],[14.7,-2.51],[17.83,-3.46],[25.71,-3.94],[26.31,-4.04],[28.58,-3.8],
  [12.58,-3.77],[12.45,-3.87],[14.34,-3.39],[16.51,-3.9],[16.63,-4.02],[20.27,-4.56],[19.4,-4.57],[22.35,-5.33],[12.58,-4.99],[11.88,-5.3],[11.98,-5.48],[16.4,-4.82],[17.74,-5.36],[13.67,-5.69],[14.64,-6.66],[14.92,-6.66],[17.04,-6.59],[14.2,-7.59],[14.64,-8.02],[17.35,-8.17],
  [17.74,-9],[19.28,-8.7],[19.45,-8.67],[19.88,-8.62],[26.24,-7.38],[26.51,-7.59],[30.29,-8.32],[13.33,-9.84],[14.77,-10.27],[11.42,-10.06],[13.74,-10.93],[13.79,-11.06],[14.04,-11.1],[14.22,-11.27],[15.96,-10.91],[16.63,-10.74],[16.49,-10.91],[16.72,-11.36],[19.77,-11.02],[19.93,-10.96],[21.61,-11.89],[12.05,-11.49],
  [13.57,-12.24],[14.91,-12.66],[11.82,-13.3],[12.65,-13.64],[13.09,-13.93],[16,-13.4],[16.15,-13.54],[14.68,-15.05],[15.4,-14.88],[11.75,-15.18],[11.43,-15.4],[17.92,-15.61],[20.39,-15.36],[23.42,-15.22],[19.21,-16.34],[16.53,-18.77],[18.26,-18.42],[17.1,-19.42],[17.14,-19.56],
  [13.08,-20.87],[11.74,-23.6],[15.33,-26.7],[12.09,-27.48],
];

const bluePoints: Pt[] = [...blueUpperLeft, ...blueLowerLeft, ...blueUpperMiddle, ...blueCenter, ...blueLowerMiddle, ...blueRight];
const greenPoints: Pt[] = [...greenUpperLeft, ...greenLowerLeft, ...greenUpperMiddle, ...greenCenter, ...greenLowerMiddle, ...greenRight];

const WIDTH = 3880;
const HEIGHT = 2881;
const DPI = 300 / 72; // px per pt of the original figure
const frame = { left: 130.3, right: 3850.7, top: 8.5, bottom: 2780.7 };

const x = d3.scaleLinear().domain([-32.38, 33.28]).range([frame.left, frame.right]);
const y = d3.scaleLinear().domain([-34.03, 35.1]).range([frame.bottom, frame.top]);

const BLUE = '#a1c9f4';
const GREEN = '#8de5a1';
const R = 3.5 * DPI;

export default function App() {
  const xAxisRef = useRef<SVGGElement>(null);
  const yAxisRef = useRef<SVGGElement>(null);

  useEffect(() => {
    const style = (g: d3.Selection<SVGGElement, unknown, null, undefined>) => {
      g.select('.domain').remove();
      g.selectAll('.tick line').attr('stroke', '#000').attr('stroke-width', 0.8 * DPI);
      g.selectAll('.tick text')
        .attr('fill', '#000')
        .style('font-family', '"DejaVu Sans"')
        .style('font-size', `${10 * DPI}px`);
    };
    d3.select(xAxisRef.current!)
      .call(d3.axisBottom(x).tickValues(xTicks).tickSize(3.5 * DPI).tickPadding(3.5 * DPI))
      .call(style);
    d3.select(yAxisRef.current!)
      .call(d3.axisLeft(y).tickValues(yTicks).tickSize(3.5 * DPI).tickPadding(3.5 * DPI))
      .call(style);
  }, []);

  return (
    <svg
      width={WIDTH}
      height={HEIGHT}
      viewBox={`0 0 ${WIDTH} ${HEIGHT}`}
      style={{ position: 'absolute', left: 0, top: 0, background: '#fff' }}
    >
      <g>
        {bluePoints.map((d, i) => (
          <circle key={i} cx={x(d[0])} cy={y(d[1])} r={R} fill={BLUE} />
        ))}
      </g>
      <g>
        {greenPoints.map((d, i) => (
          <circle key={i} cx={x(d[0])} cy={y(d[1])} r={R} fill={GREEN} />
        ))}
      </g>
      <rect
        x={frame.left}
        y={frame.top}
        width={frame.right - frame.left}
        height={frame.bottom - frame.top}
        fill="none"
        stroke="#000"
        strokeWidth={0.8 * DPI}
      />
      <g ref={xAxisRef} transform={`translate(0,${frame.bottom})`} />
      <g ref={yAxisRef} transform={`translate(${frame.left},0)`} />
    </svg>
  );
}
